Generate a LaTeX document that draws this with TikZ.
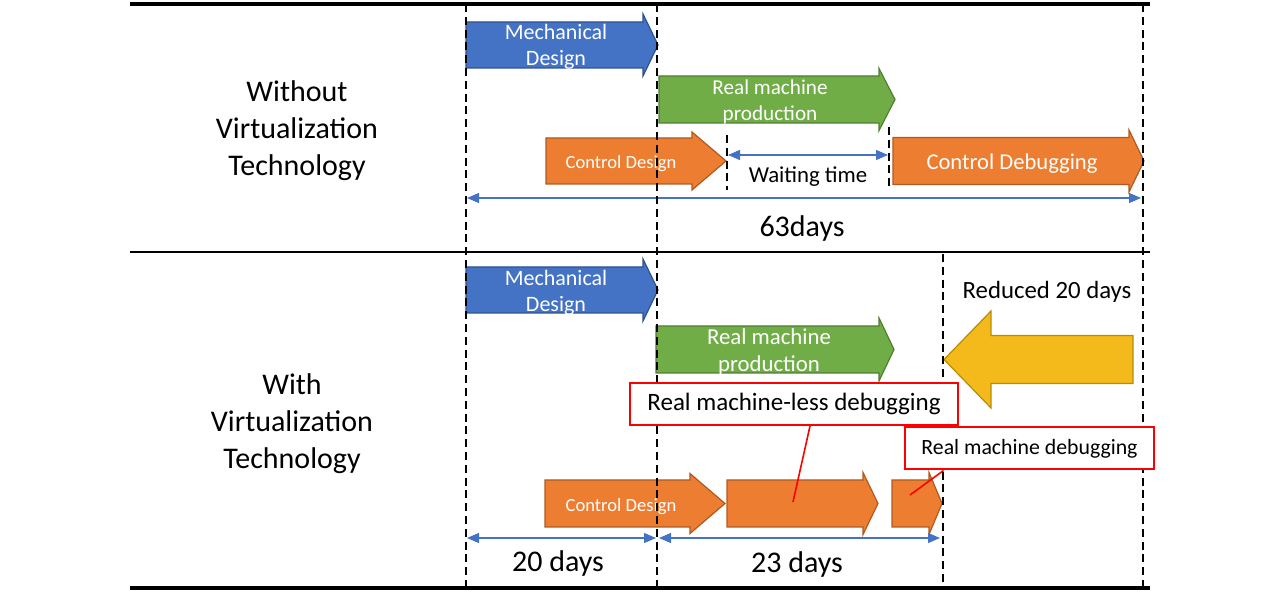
\documentclass[tikz,border=0pt]{standalone}
\usepackage{fontspec}
\setmainfont{Carlito}
\usetikzlibrary{arrows.meta}
\definecolor{mechblue}{HTML}{4472C4}
\definecolor{mechedge}{HTML}{2F528F}
\definecolor{prodgreen}{HTML}{70AD47}
\definecolor{prodedge}{HTML}{507E32}
\definecolor{ctrlorange}{HTML}{ED7D31}
\definecolor{ctrledge}{HTML}{AE5A21}
\definecolor{savedyellow}{HTML}{F4B91A}
\definecolor{savededge}{HTML}{BC8C00}
\definecolor{dimblue}{HTML}{4472C4}
% block arrow: style, body start, head base, tip, centre y, half body, half head
\newcommand{\blockarrow}[7]{%
  \draw[#1] (#2,#5-#6) -- (#3,#5-#6) -- (#3,#5-#7) -- (#4,#5)
    -- (#3,#5+#7) -- (#3,#5+#6) -- (#2,#5+#6) -- cycle;}
\tikzset{
  mech/.style={fill=mechblue, draw=mechedge, line width=0.6pt},
  prod/.style={fill=prodgreen, draw=prodedge, line width=0.6pt},
  ctrl/.style={fill=ctrlorange, draw=ctrledge, line width=0.6pt},
  saved/.style={fill=savedyellow, draw=savededge, line width=0.6pt},
  intxt/.style={text=white, align=center, inner sep=0pt},
  bigtxt/.style={font=\fontsize{15}{18.5}\selectfont, align=center, inner sep=0pt},
  timeline/.style={black, line width=1.2pt, dash pattern=on 4pt off 2.4pt},
  dimline/.style={dimblue, line width=0.6pt, {Triangle[length=6pt,width=5pt]}-{Triangle[length=6pt,width=5pt]}},
  callout/.style={draw=red, line width=1pt, fill=white, minimum height=21pt, inner sep=0pt},
  leader/.style={red, line width=0.8pt}
}
\begin{document}
\begin{tikzpicture}[x=0.5pt, y=-0.5pt]
\useasboundingbox (0,0) rectangle (1284,592);
% frame
\draw[line width=2pt] (130,4) -- (1150,4);
\draw[line width=1pt] (130,252) -- (1150,252);
\draw[line width=2pt] (130,588) -- (1150,588);
% without virtualization
\node[bigtxt] (without) at (297,131) {Without\\Virtualization\\Technology};
\blockarrow{mech}{466}{643}{658}{45}{23}{31}
\node[intxt, font=\fontsize{11}{13}\selectfont] (mech1) at (556,47) {Mechanical\\Design};
\blockarrow{prod}{659}{879}{895}{99.5}{23.5}{31}
\node[intxt, font=\fontsize{10.6}{13}\selectfont] (prod1) at (770,102) {Real machine\\production};
\blockarrow{ctrl}{546}{692}{726}{161}{23}{29}
\node[intxt, font=\fontsize{9.3}{11}\selectfont] (ctrl1) at (621,164) {Control Design};
\blockarrow{ctrl}{893}{1129}{1144}{161}{23.5}{31}
\node[intxt, font=\fontsize{11.3}{13}\selectfont] (debug1) at (1012,164) {Control Debugging};
\coordinate (wait-a) at (728,155);
\coordinate (wait-b) at (888,155);
\draw[dimline] (wait-a) -- (wait-b);
\node[font=\fontsize{11.4}{13}\selectfont, inner sep=0pt] (wait) at (808,177) {Waiting time};
\coordinate (tot-a) at (467,198);
\coordinate (tot-b) at (1141,198);
\draw[dimline] (tot-a) -- (tot-b);
\node[bigtxt] (total) at (802,229) {63days};
% with virtualization
\node[bigtxt] (with) at (292,424) {With\\Virtualization\\Technology};
\blockarrow{mech}{466}{643}{658}{290}{23}{31}
\node[intxt, font=\fontsize{11}{13}\selectfont] (mech2) at (556,293) {Mechanical\\Design};
\blockarrow{prod}{656}{879}{894}{349.5}{23.5}{31.5}
\node[intxt, font=\fontsize{11.4}{13.5}\selectfont] (prod2) at (769,352) {Real machine\\production};
\blockarrow{saved}{1133}{991}{944}{359.5}{24}{48.5}
\node[font=\fontsize{12.4}{15}\selectfont, inner sep=0pt] (reduced) at (1047,292) {Reduced 20 days};
\blockarrow{ctrl}{545}{690}{725}{503.5}{23.5}{30}
\node[intxt, font=\fontsize{9.3}{11}\selectfont] (ctrl2) at (621,507) {Control Design};
\blockarrow{ctrl}{727}{863}{878}{503.5}{23.5}{31}
\blockarrow{ctrl}{892}{929}{942}{503.5}{23.5}{31}
\coordinate (d20-a) at (467,538);
\coordinate (d20-b) at (656,538);
\coordinate (d23-a) at (659,538);
\coordinate (d23-b) at (940,538);
\draw[dimline] (d20-a) -- (d20-b);
\draw[dimline] (d23-a) -- (d23-b);
\node[bigtxt] (days20) at (558,564) {20 days};
\node[bigtxt] (days23) at (797,565) {23 days};
% dashed time marks
\draw[timeline] (466,4) -- (466,588);
\draw[timeline] (657,4) -- (657,588);
\draw[timeline] (1143,4) -- (1143,588);
\draw[timeline] (727,135) -- (727,190);
\draw[timeline] (889,127) -- (889,188);
\draw[timeline] (943,254) -- (943,588);
% callouts
\node[callout, minimum width=164pt, font=\fontsize{12.5}{15}\selectfont] (lessdebug) at (794,404) {Real machine-less debugging};
\node[callout, minimum width=124.5pt, font=\fontsize{10.9}{13}\selectfont] (realdebug) at (1029.5,448.5) {Real machine debugging};
\coordinate (less-end) at (793,502);
\coordinate (real-end) at (910,495);
\draw[leader] ([xshift=8pt]lessdebug.south) -- (less-end);
\draw[leader] ([xshift=-43pt]realdebug.south) -- (real-end);
\end{tikzpicture}
\end{document}
